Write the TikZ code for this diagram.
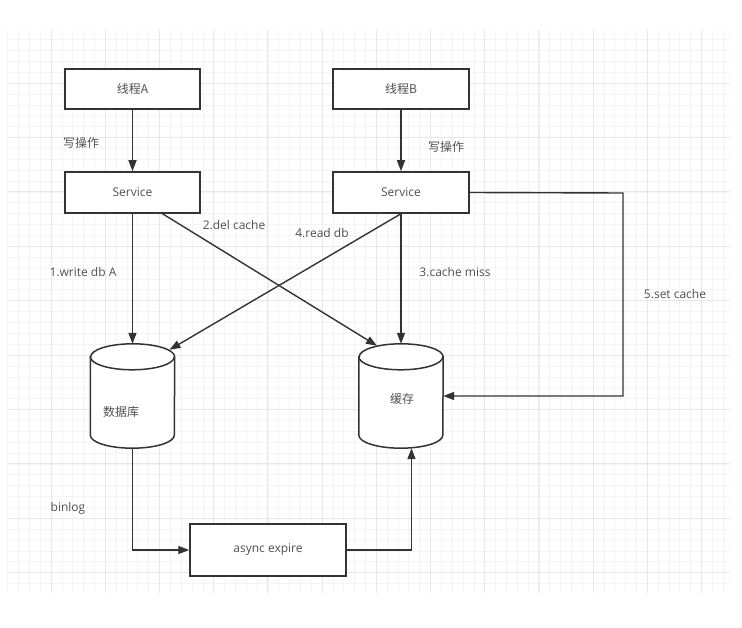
\documentclass[tikz,border=0pt]{standalone}
\usepackage{fontspec}
\setmainfont{Open Sans}
\newfontfamily\cjk{Noto Sans CJK SC}
\usetikzlibrary{arrows.meta,calc}
\definecolor{ln}{HTML}{333333}
\definecolor{tx}{HTML}{505050}
\definecolor{gmaj}{HTML}{E8E8E8}
\definecolor{gmin}{HTML}{F4F4F4}
\newcommand\drawcyl[1]{%
  \draw[ln,line width=1.5pt,fill=white] ($(#1.north west)+(0,-13)$) -- ($(#1.south west)+(0,13)$)
    arc[start angle=180,end angle=360,x radius=42pt,y radius=13pt] -- ($(#1.north east)+(0,-13)$)
    arc[start angle=0,end angle=180,x radius=42pt,y radius=13pt] -- cycle;
  \draw[ln,line width=1.5pt] ($(#1.north west)+(0,-13)$) arc[start angle=180,end angle=360,x radius=42pt,y radius=13pt];}
\begin{document}
\begin{tikzpicture}[x=1pt,y=1pt,
  box/.style={draw=ln,line width=1.5pt,fill=white,minimum height=40pt,text=tx,
    font=\fontsize{12}{14}\selectfont,inner sep=0},
  cylbox/.style={minimum width=84pt,minimum height=104pt,inner sep=0},
  lbl/.style={text=tx,font=\fontsize{12}{14}\selectfont,inner sep=0},
  conn/.style={draw=ln,line width=1.4pt,-{Triangle[length=11pt,width=8pt]}}]
\useasboundingbox (0,0) rectangle (742,-628);
% grid
\foreach \j in {1,...,67} \draw[gmin,line width=0.5pt] ({-3.2+10.84*\j},-30) -- ({-3.2+10.84*\j},-593);
\foreach \j in {1,...,51} \draw[gmin,line width=0.5pt] (8,{-28.6-10.88*\j}) -- (730,{-28.6-10.88*\j});
\foreach \k in {1,...,13} \draw[gmaj,line width=0.8pt] ({-3.2+54.2*\k},-30) -- ({-3.2+54.2*\k},-593);
\foreach \k in {1,...,10} \draw[gmaj,line width=0.8pt] (8,{-28.6-54.4*\k}) -- (730,{-28.6-54.4*\k});
% nodes
\node[box,minimum width=135pt] (tA) at (132.5,-89) {\cjk 线程A};
\node[box,minimum width=136pt] (tB) at (401,-89) {\cjk 线程B};
\node[box,minimum width=135pt,minimum height=41pt] (sA) at (132.5,-192.5) {Service};
\node[box,minimum width=136pt,minimum height=41pt] (sB) at (401,-192.5) {Service};
\node[cylbox] (db) at (132.5,-396) {};
\node[cylbox] (cache) at (401,-396) {};
\drawcyl{db}
\drawcyl{cache}
\node[lbl] (dbt) at (121,-412) {\cjk 数据库};
\node[lbl] (cachet) at (402,-399) {\cjk 缓存};
\node[box,minimum width=156pt,minimum height=52pt] (async) at (268,-550) {async expire};
% labels
\node[lbl] (wA) at (81,-143) {\cjk 写操作};
\node[lbl] (wB) at (446,-147) {\cjk 写操作};
\node[lbl] (l1) at (83,-272) {1.write db A};
\node[lbl] (l2) at (234,-225) {2.del cache};
\node[lbl] (l4) at (322,-233) {4.read db};
\node[lbl] (l3) at (455,-272) {3.cache miss};
\node[lbl] (l5) at (675,-294) {5.set cache};
\node[lbl] (lb) at (68,-508) {binlog};
% connectors
\coordinate (c5) at (623,-193);
\draw[conn] (tA.south) -- (sA.north);
\draw[conn] (tB.south) -- (sB.north);
\draw[conn] (sA.south) -- (db.north);
\draw[conn] ($(sA.south)+(30,0)$) -- ($(cache.north)+(-24,-2)$);
\draw[conn] (sB.south) -- ($(db.north)+(37,-6)$);
\draw[conn] (sB.south) -- (cache.north);
\draw[conn] (sB.east) -- (c5) |- (cache.east);
\draw[conn] (db.south) |- (async.west);
\draw[conn] (async.east) -| ($(cache.south)+(10.5,0)$);
\end{tikzpicture}
\end{document}
